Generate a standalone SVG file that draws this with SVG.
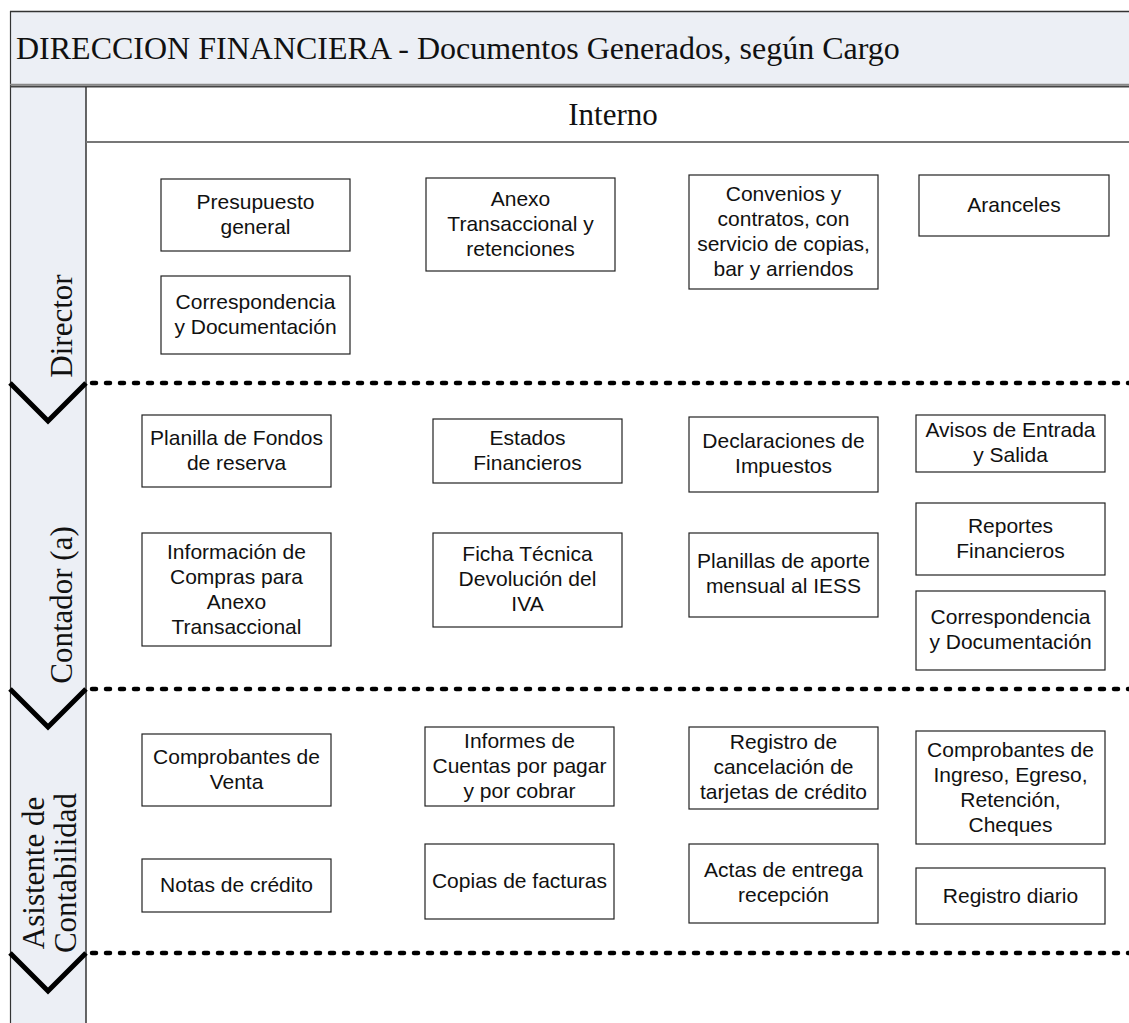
<svg xmlns="http://www.w3.org/2000/svg" width="1129" height="1023" viewBox="0 0 1129 1023">
<style>
.box rect{fill:#fff;stroke:#222;stroke-width:1.2}
.box text{font-family:"Liberation Sans",Arial,sans-serif;font-size:21px;fill:#111;text-anchor:middle}
.serif{font-family:"Liberation Serif","Times New Roman",serif;fill:#111}
.sep{stroke:#000;stroke-width:4.5;stroke-linecap:round;stroke-dasharray:4 10;fill:none}
.chev{stroke:#000;stroke-width:5;fill:none;stroke-linejoin:miter}
</style>
<rect width="1129" height="1023" fill="#fff"/>
<g id="frame">
<rect x="10" y="11" width="1130" height="74" fill="#ECEFF5"/>
<rect x="10" y="86" width="76" height="940" fill="#ECEFF5"/>
<line x1="10" y1="11.5" x2="1129" y2="11.5" stroke="#333" stroke-width="1.5"/>
<line x1="10.5" y1="11" x2="10.5" y2="1023" stroke="#333" stroke-width="1.2"/>
<line x1="10" y1="84.5" x2="1129" y2="84.5" stroke="#888" stroke-width="1.5"/>
<line x1="10" y1="86.5" x2="1129" y2="86.5" stroke="#444" stroke-width="2"/>
<line x1="86" y1="87" x2="86" y2="1023" stroke="#333" stroke-width="1.5"/>
<line x1="86" y1="142" x2="1129" y2="142" stroke="#777" stroke-width="2"/>
<text class="serif" x="16" y="59" font-size="32">DIRECCION FINANCIERA - Documentos Generados, según Cargo</text>
<text class="serif" x="613" y="125" font-size="31" text-anchor="middle">Interno</text>
</g>
<g id="lane-director">
<text class="serif" font-size="31" text-anchor="middle" transform="translate(72,326) rotate(-90)">Director</text>
</g>
<g id="lane-contador">
<text class="serif" font-size="31" text-anchor="middle" transform="translate(72,605) rotate(-90)">Contador (a)</text>
</g>
<g id="lane-asistente">
<text class="serif" font-size="31" text-anchor="middle" transform="translate(44,873) rotate(-90)">Asistente de</text>
<text class="serif" font-size="31" text-anchor="middle" transform="translate(76,873) rotate(-90)">Contabilidad</text>
</g>
<g id="separators">
<line class="sep" x1="92" y1="383" x2="1129" y2="383"/>
<line class="sep" x1="92" y1="689" x2="1129" y2="689"/>
<line class="sep" x1="92" y1="953" x2="1129" y2="953"/>
<polyline class="chev" points="10,383 48,421 86,383"/>
<polyline class="chev" points="10,689 48,727 86,689"/>
<polyline class="chev" points="10,953 48,991 86,953"/>
</g>
<g id="n1" class="box"><rect x="161" y="179" width="189" height="72"/><text x="255.5"><tspan x="255.5" y="209">Presupuesto</tspan><tspan x="255.5" y="234">general</tspan></text></g>
<g id="n2" class="box"><rect x="161" y="276" width="189" height="78"/><text><tspan x="255.5" y="309">Correspondencia</tspan><tspan x="255.5" y="334">y Documentación</tspan></text></g>
<g id="n3" class="box"><rect x="426" y="178" width="189" height="93"/><text><tspan x="520.5" y="206">Anexo</tspan><tspan x="520.5" y="231">Transaccional y</tspan><tspan x="520.5" y="256">retenciones</tspan></text></g>
<g id="n4" class="box"><rect x="689" y="175" width="189" height="114"/><text><tspan x="783.5" y="201">Convenios y</tspan><tspan x="783.5" y="226">contratos, con</tspan><tspan x="783.5" y="251">servicio de copias,</tspan><tspan x="783.5" y="276">bar y arriendos</tspan></text></g>
<g id="n5" class="box"><rect x="919" y="175" width="190" height="61"/><text><tspan x="1014" y="212">Aranceles</tspan></text></g>
<g id="n6" class="box"><rect x="142" y="415" width="189" height="72"/><text><tspan x="236.5" y="445">Planilla de Fondos</tspan><tspan x="236.5" y="470">de reserva</tspan></text></g>
<g id="n7" class="box"><rect x="433" y="419" width="189" height="64"/><text><tspan x="527.5" y="445">Estados</tspan><tspan x="527.5" y="470">Financieros</tspan></text></g>
<g id="n8" class="box"><rect x="689" y="417" width="189" height="75"/><text><tspan x="783.5" y="448">Declaraciones de</tspan><tspan x="783.5" y="473">Impuestos</tspan></text></g>
<g id="n9" class="box"><rect x="916" y="415" width="189" height="57"/><text><tspan x="1010.5" y="437">Avisos de Entrada</tspan><tspan x="1010.5" y="462">y Salida</tspan></text></g>
<g id="n10" class="box"><rect x="142" y="533" width="189" height="113"/><text><tspan x="236.5" y="559">Información de</tspan><tspan x="236.5" y="584">Compras para</tspan><tspan x="236.5" y="609">Anexo</tspan><tspan x="236.5" y="634">Transaccional</tspan></text></g>
<g id="n11" class="box"><rect x="433" y="533" width="189" height="94"/><text><tspan x="527.5" y="561">Ficha Técnica</tspan><tspan x="527.5" y="586">Devolución del</tspan><tspan x="527.5" y="611">IVA</tspan></text></g>
<g id="n12" class="box"><rect x="689" y="533" width="189" height="84"/><text><tspan x="783.5" y="568">Planillas de aporte</tspan><tspan x="783.5" y="593">mensual al IESS</tspan></text></g>
<g id="n13" class="box"><rect x="916" y="503" width="189" height="72"/><text><tspan x="1010.5" y="533">Reportes</tspan><tspan x="1010.5" y="558">Financieros</tspan></text></g>
<g id="n14" class="box"><rect x="916" y="591" width="189" height="79"/><text><tspan x="1010.5" y="624">Correspondencia</tspan><tspan x="1010.5" y="649">y Documentación</tspan></text></g>
<g id="n15" class="box"><rect x="142" y="734" width="189" height="72"/><text><tspan x="236.5" y="764">Comprobantes de</tspan><tspan x="236.5" y="789">Venta</tspan></text></g>
<g id="n16" class="box"><rect x="425" y="727" width="189" height="79"/><text><tspan x="519.5" y="748">Informes de</tspan><tspan x="519.5" y="773">Cuentas por pagar</tspan><tspan x="519.5" y="798">y por cobrar</tspan></text></g>
<g id="n17" class="box"><rect x="689" y="727" width="189" height="82"/><text><tspan x="783.5" y="749">Registro de</tspan><tspan x="783.5" y="774">cancelación de</tspan><tspan x="783.5" y="799">tarjetas de crédito</tspan></text></g>
<g id="n18" class="box"><rect x="916" y="731" width="189" height="113"/><text><tspan x="1010.5" y="757">Comprobantes de</tspan><tspan x="1010.5" y="782">Ingreso, Egreso,</tspan><tspan x="1010.5" y="807">Retención,</tspan><tspan x="1010.5" y="832">Cheques</tspan></text></g>
<g id="n19" class="box"><rect x="142" y="859" width="189" height="53"/><text><tspan x="236.5" y="892">Notas de crédito</tspan></text></g>
<g id="n20" class="box"><rect x="425" y="844" width="189" height="75"/><text><tspan x="519.5" y="888">Copias de facturas</tspan></text></g>
<g id="n21" class="box"><rect x="689" y="844" width="189" height="79"/><text><tspan x="783.5" y="877">Actas de entrega</tspan><tspan x="783.5" y="902">recepción</tspan></text></g>
<g id="n22" class="box"><rect x="916" y="868" width="189" height="56"/><text><tspan x="1010.5" y="903">Registro diario</tspan></text></g>
</svg>
